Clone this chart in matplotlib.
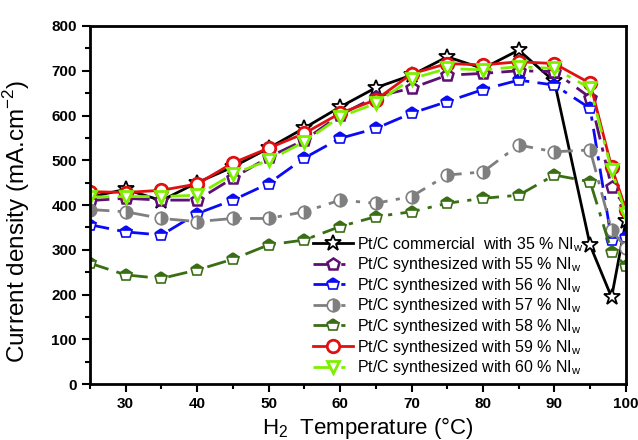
import matplotlib
matplotlib.use("Agg")
import matplotlib.pyplot as plt

plt.rcParams['font.family'] = ['Liberation Sans', 'DejaVu Sans']
plt.rcParams['mathtext.fontset'] = 'custom'
plt.rcParams['mathtext.rm'] = 'Liberation Sans'

temps = [25, 30, 35, 40, 45, 50, 55, 60, 65, 70, 75, 80, 85, 90, 95, 98, 100]

commercial_35 = [418, 435, 410, 450, 485, 527, 572, 619, 662, 690, 731, 705, 746, 676, 310, 194, 364]
synth_55 = [410, 415, 411, 411, 460, 507, 545, 601, 642, 661, 690, 694, 700, 698, 640, 440, 395]
synth_56 = [356, 340, 333, 381, 411, 448, 505, 549, 571, 605, 631, 658, 679, 668, 616, 322, 328]
synth_57 = [390, 385, 370, 363, 370, 370, 385, 411, 404, 419, 467, 474, 534, 519, 523, 344, 305]
synth_58 = [270, 244, 236, 255, 279, 311, 322, 352, 374, 385, 404, 415, 422, 467, 452, 296, 264]
synth_59 = [430, 428, 433, 447, 494, 527, 560, 605, 635, 693, 716, 713, 720, 716, 672, 485, 390]
synth_60 = [418, 419, 419, 422, 469, 500, 541, 597, 627, 682, 705, 702, 709, 705, 661, 478, 380]

labels = [
    "Pt/C commercial  with 35 % NI$_\\mathregular{w}$",
    "Pt/C synthesized with 55 % NI$_\\mathregular{w}$",
    "Pt/C synthesized with 56 % NI$_\\mathregular{w}$",
    "Pt/C synthesized with 57 % NI$_\\mathregular{w}$",
    "Pt/C synthesized with 58 % NI$_\\mathregular{w}$",
    "Pt/C synthesized with 59 % NI$_\\mathregular{w}$",
    "Pt/C synthesized with 60 % NI$_\\mathregular{w}$",
]

fig = plt.figure(figsize=(6.38, 4.4), dpi=100)
ax = fig.add_axes([0.141, 0.127, 0.840, 0.814])

dashdot = (0, (7, 3, 1.5, 3))
styles = [
    dict(color='black', ls='-', marker='*', ms=12, mfc='white', mec='black', mew=1.3),
    dict(color='#5E0F73', ls=dashdot, marker='p', ms=9, mfc='white', mec='#5E0F73', mew=1.8),
    dict(color='#0A0AF5', ls=dashdot, marker='p', ms=9, fillstyle='top', mfc='#0A0AF5', mfcalt='white', mec='#0A0AF5', mew=1.2),
    dict(color='#7F7F7F', ls=dashdot, marker='o', ms=9, fillstyle='right', mfc='#7F7F7F', mfcalt='white', mec='#7F7F7F', mew=1.2),
    dict(color='#3A6E14', ls=dashdot, marker='p', ms=9, fillstyle='top', mfc='#3A6E14', mfcalt='white', mec='#3A6E14', mew=1.2),
    dict(color='#E01010', ls='-', marker='o', ms=9, mfc='white', mec='#E01010', mew=2),
    dict(color='#7CF000', ls=dashdot, marker='v', ms=9, mfc='white', mec='#7CF000', mew=2),
]
series = [commercial_35, synth_55, synth_56, synth_57, synth_58, synth_59, synth_60]

for ys, st, lab in zip(series, styles, labels):
    ax.plot(temps, ys, lw=2, label=lab, **st)

ax.set_xlim(25, 100)
ax.set_ylim(0, 800)
ax.set_xticks(range(30, 101, 10))
ax.set_xticks(range(25, 101, 5), minor=True)
ax.set_yticks(range(0, 801, 100))
ax.set_yticks(range(0, 801, 50), minor=True)
ax.tick_params(which='major', direction='out', length=6, width=1.5, labelsize=11, top=False, right=False)
ax.tick_params(which='minor', direction='out', length=3.5, width=1.5, top=False, right=False)
for lbl in ax.get_xticklabels() + ax.get_yticklabels():
    lbl.set_fontweight('bold')
for sp in ax.spines.values():
    sp.set_linewidth(2)

ax.set_xlabel("H$_2$  Temperature (°C)", fontsize=16)
ax.set_ylabel("Current density (mA.cm$^{-2}$)", fontsize=17.5)
ax.xaxis.set_label_coords(0.519, -0.085)
ax.yaxis.set_label_coords(-0.108, 0.455)

leg = ax.legend(loc='lower left', bbox_to_anchor=(0.395, -0.012), frameon=False, fontsize=11.5,
                handlelength=2.5, handletextpad=0.25, labelspacing=0.1, borderpad=0.2)

fig.savefig("out.png", dpi=100)
